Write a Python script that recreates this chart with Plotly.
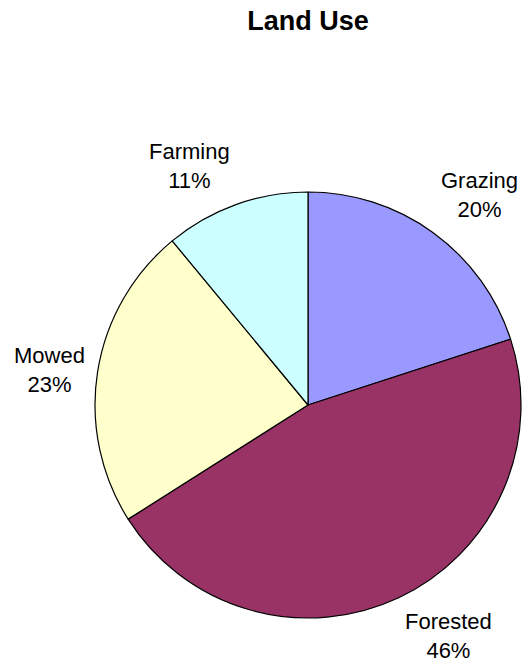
import math
import plotly.graph_objects as go

# Land use shares (percent)
labels = ["Grazing", "Forested", "Mowed", "Farming"]
values = [20, 46, 23, 11]
colors = ["#9999FF", "#993366", "#FFFFCC", "#CCFFFF"]

W, H = 526, 664
FONT = "Liberation Sans, Arial, sans-serif"

# pie placement in pixels (centre and radius)
cx, cy, R = 308, 405, 213
dom_x = [(cx - R) / W, (cx + R) / W]
dom_y = [(H - cy - R) / H, (H - cy + R) / H]

fig = go.Figure(
    go.Pie(
        labels=labels,
        values=values,
        sort=False,
        direction="clockwise",
        rotation=0,
        marker=dict(colors=colors, line=dict(color="#000000", width=1.2)),
        textinfo="none",
        showlegend=False,
        hoverinfo="label+percent",
        domain=dict(x=dom_x, y=dom_y),
    )
)

# outside data labels: placed just beyond the rim at each slice's mid-angle,
# anchored on the corner/edge that faces the pie
total = sum(values)
label_r = R * 1.05
cum = 0.0
annotations = []
for lab, v in zip(labels, values):
    mid = (cum + v / 2) / total * 2 * math.pi
    cum += v
    s, c = math.sin(mid), math.cos(mid)
    px = cx + label_r * s
    py = cy - label_r * c
    xa = "left" if s > 0.3 else ("right" if s < -0.3 else "center")
    ya = "bottom" if c > 0.3 else ("top" if c < -0.3 else "middle")
    pct = round(v / total * 100)
    annotations.append(
        dict(
            x=px / W,
            y=1 - py / H,
            xref="paper",
            yref="paper",
            xanchor=xa,
            yanchor=ya,
            text=f"{lab}<br>{pct}%",
            showarrow=False,
            align="center",
            font=dict(family=FONT, size=22, color="#000000"),
        )
    )

fig.update_layout(
    width=W,
    height=H,
    margin=dict(l=0, r=0, t=0, b=0),
    paper_bgcolor="#FFFFFF",
    plot_bgcolor="#FFFFFF",
    annotations=annotations,
    title=dict(
        text="<b>Land Use</b>",
        x=cx / W,
        xanchor="center",
        y=1 - 21 / H,
        yanchor="middle",
        font=dict(family=FONT, size=27, color="#000000"),
    ),
)

fig.write_html("out.html")
